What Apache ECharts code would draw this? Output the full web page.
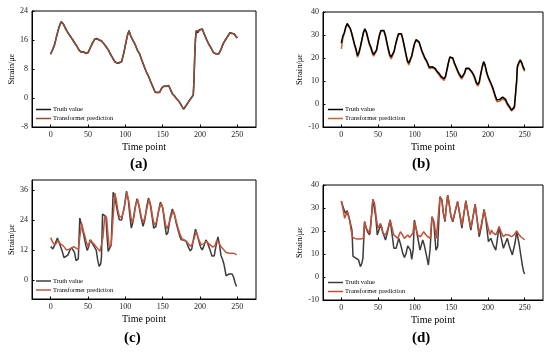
<!DOCTYPE html>
<html><head><meta charset="utf-8">
<script src="https://cdn.jsdelivr.net/npm/echarts@6/dist/echarts.min.js"></script>
<style>html,body{margin:0;padding:0;background:#fff}#c{width:550px;height:353px}</style>
</head><body><div id="c"></div>
<script>
const xTicks = [0, 50, 100, 150, 200, 250];
const yTicksA = [-8, 0, 8, 16, 24];
const yTicksB = [-10, 0, 10, 20, 30, 40];
const yTicksC = [0, 12, 24, 36];
const yTicksD = [-10, 0, 10, 20, 30, 40];
const panelLabels = ['(a)', '(b)', '(c)', '(d)'];
const seriesNames = ['Truth value', 'Transformer prediction'];

const aTruth = [[0,12.2],[3,13.5],[5,14.6],[8,17],[11,19.5],[14,21],[15,21.3],[17,20.4],[20,19.2],[23,18],[26,17.2],[29,16.2],[32,15.3],[35,14.3],[38,13.3],[41,12.6],[44,12.8],[47,12.3],[50,12.5],[53,13.8],[56,15.2],[59,16.2],[62,16.4],[65,16],[68,15.8],[71,15],[74,14.3],[77,13.3],[80,12.2],[83,11],[86,10],[89,9.6],[92,9.8],[95,10],[98,12.5],[101,15.5],[103,17.5],[105,18.6],[107,17.2],[110,16],[113,14.8],[116,13.3],[119,12.2],[122,10.5],[125,8.8],[128,7.3],[131,6],[134,4.5],[137,3],[140,1.6],[143,1.5],[146,1.6],[149,2.8],[152,3.3],[155,3.2],[158,3.5],[160,2.5],[163,1.2],[166,0.5],[169,-0.3],[172,-1],[175,-2],[178,-3.1],[180,-2.8],[183,-1.6],[186,-0.6],[189,0.2],[191,0.8],[192,5],[193,12],[194,16.5],[195,18.6],[197,18],[199,18.8],[201,19.2],[203,19],[206,17.5],[209,16],[212,14.8],[215,13.7],[218,12.6],[221,12.2],[225,12.2],[228,13.3],[231,15],[234,16],[237,17],[240,18],[243,17.8],[246,17.7],[248,17],[250,16.6]];
const aPred = [[0,12],[3,13.6],[5,14.4],[8,17.2],[11,19.3],[14,21.1],[15,21.1],[17,20.5],[20,19],[23,18.1],[26,17],[29,16.3],[32,15.1],[35,14.4],[38,13.1],[41,12.7],[44,12.6],[47,12.4],[50,12.4],[53,13.9],[56,15],[59,16.3],[62,16.2],[65,16.1],[68,15.6],[71,15.1],[74,14.1],[77,13.4],[80,12],[83,11.1],[86,9.9],[89,9.7],[92,9.6],[95,10.1],[98,12.3],[101,15.6],[103,17.3],[105,18.4],[107,17.3],[110,15.9],[113,14.9],[116,13.2],[119,12.3],[122,10.4],[125,8.9],[128,7.2],[131,6.1],[134,4.4],[137,3.1],[140,1.5],[143,1.6],[146,1.5],[149,2.9],[152,3.2],[155,3.3],[158,3.4],[160,2.6],[163,1.1],[166,0.6],[169,-0.4],[172,-0.9],[175,-2.1],[178,-3],[180,-2.9],[183,-1.5],[186,-0.7],[189,0.3],[191,0.9],[192,5.3],[193,12.2],[194,16.3],[195,18.4],[197,18.1],[199,18.6],[201,19.1],[203,19.1],[206,17.4],[209,16.1],[212,14.7],[215,13.8],[218,12.5],[221,12.3],[225,12.1],[228,13.4],[231,14.9],[234,16.1],[237,16.9],[240,17.9],[243,17.9],[246,17.6],[248,17.1],[250,16.5]];

const bTruth = [[0,26.5],[2,29.5],[4,31],[6,33.5],[8,35],[10,35.3],[12,33],[14,31],[16,28.5],[18,26],[20,24],[22,21],[24,22.5],[26,25],[28,28],[30,31],[32,32.7],[34,31.5],[36,29],[38,26.5],[40,25],[42,23],[44,21.5],[46,21],[48,23.5],[50,27],[52,30],[54,32],[56,32.8],[58,32],[60,30],[62,27],[64,24],[66,21.5],[68,20.5],[70,21],[72,23],[74,26],[76,28.5],[78,30.5],[80,31.3],[82,30.5],[84,28],[86,25],[88,22],[90,19],[92,17.8],[94,18.5],[96,21],[98,24],[100,26.5],[102,28],[104,28.8],[106,27],[108,25],[110,23],[112,21.5],[114,20],[116,19],[118,17.5],[120,16],[122,15.5],[124,16.2],[126,16],[128,15.5],[130,14.5],[132,13.8],[134,13],[136,12],[138,11.2],[140,11],[142,12],[144,15],[146,18],[148,20.5],[150,21.3],[152,20],[154,18],[156,16.5],[158,15],[160,13.5],[162,12.5],[164,11.5],[166,11.5],[168,13.5],[170,15.5],[172,16.2],[174,15.5],[176,15],[178,14],[180,13],[182,11.5],[184,9.5],[186,8.5],[188,9.5],[190,13],[192,16],[194,18.4],[196,17],[198,14],[200,12],[202,10.5],[204,9],[206,7.5],[208,5.5],[210,3.5],[212,1.8],[214,1.5],[216,2],[218,2.7],[220,3],[222,3.5],[224,2],[226,0.5],[228,-0.5],[230,-1.5],[232,-2.7],[234,-2.5],[236,-1.2],[238,-0.5],[239,10],[240,16.3],[242,18],[244,19.2],[246,18],[248,16],[250,14.8]];
const bPred = [[0,24],[2,28.5],[4,30.5],[6,33],[8,34.6],[10,35],[12,32.8],[14,30.6],[16,28],[18,25.5],[20,23.2],[22,20.3],[24,21.8],[26,24.5],[28,27.6],[30,30.6],[32,32.4],[34,31.2],[36,28.6],[38,26],[40,24.3],[42,22.2],[44,20.8],[46,20.3],[48,23],[50,26.6],[52,29.6],[54,31.7],[56,32.5],[58,31.7],[60,29.6],[62,26.5],[64,23.4],[66,20.8],[68,19.6],[70,20.3],[72,22.6],[74,25.6],[76,28.2],[78,30.2],[80,31],[82,30.2],[84,27.6],[86,24.5],[88,21.4],[90,18.3],[92,17],[94,17.8],[96,20.5],[98,23.6],[100,26.2],[102,27.7],[104,28.5],[106,26.7],[108,24.6],[110,22.6],[112,21],[114,19.5],[116,18.5],[118,17],[120,15.4],[122,15],[124,15.8],[126,15.6],[128,15],[130,14],[132,13.2],[134,12.3],[136,11.3],[138,10.5],[140,10.3],[142,11.5],[144,14.5],[146,17.6],[148,20.2],[150,21],[152,19.7],[154,17.6],[156,16],[158,14.5],[160,13],[162,11.8],[164,10.8],[166,10.9],[168,13],[170,15.2],[172,16],[174,15.2],[176,14.6],[178,13.6],[180,12.5],[182,10.8],[184,8.8],[186,7.8],[188,8.9],[190,12.5],[192,15.6],[194,18],[196,16.6],[198,13.6],[200,11.5],[202,10],[204,8.5],[206,7],[208,5],[210,2.8],[212,1],[214,0.6],[216,1.2],[218,1.8],[220,2.2],[222,2.8],[224,1.3],[226,-0.2],[228,-1.1],[230,-2],[232,-3],[234,-2.9],[236,-1.8],[238,-1],[239,9],[240,15.5],[242,17.4],[244,18.7],[246,17.5],[248,15.5],[250,14.2]];

const cTruth = [[0,13.5],[3,12.5],[6,14.5],[9,16.8],[12,14.5],[15,12],[18,9],[20,8.3],[23,10],[26,12.1],[28,13],[30,13.4],[32,11],[34,7.8],[36,7.5],[37,8.5],[39,24.8],[41,22.5],[44,18.5],[47,14],[49,11.9],[51,13.5],[53,16.1],[55,15.5],[57,14.1],[59,13.5],[61,12],[63,8],[65,5.5],[67,6.5],[68,9],[69.5,26.4],[72,26],[74,25.5],[75,20],[77,11.5],[79,12],[81,14],[83.7,35.1],[86,33],[88,29.7],[90,26.5],[92,24.1],[95,24],[97,24.5],[99,30],[101.5,35.5],[104,32],[106,26],[108,20.8],[110,23],[113,29],[115.7,32.5],[118,30],[121,25],[123.7,21.5],[126,24],[129,30],[131,32.8],[133,31],[136,25],[138,20.8],[141,21.5],[144,27],[147,31.2],[150,29],[153,22],[155,18.1],[157,19],[160,25],[163,28.4],[166,26],[168,23],[170.5,20.1],[173,17.5],[175,16.1],[178,16],[181.6,15.5],[184,13.5],[187,11.7],[189,12.5],[191,16],[194,20.4],[196,18.5],[199,15],[201,13],[203,12.1],[205,13.5],[208,16.1],[210,15],[213,12.5],[216,9.7],[219,9.7],[221,13],[224,17.3],[226,14.5],[228,10],[230,8.5],[232,6.5],[235,1.7],[237,1.2],[239,2.5],[241,3.2],[243,2.5],[245,1.2],[247,-1],[249,-2.5]];
const cPred = [[0,17],[3,15],[6,14.1],[8,15],[10,15.9],[13,14.5],[17,13.7],[21,12.1],[24,12.3],[28,12.8],[31,13.4],[34,12.8],[37,12.3],[39,12.1],[41.4,22.8],[44,19.5],[46,17.5],[48,15],[50,13.5],[52,15],[53.5,16.1],[56,15],[59,14.1],[62,13],[66,11.5],[68,12.1],[70,17],[72.5,25.7],[75,24.8],[76.5,19],[78.3,13.5],[81,13.8],[83,14.5],[86,34.8],[88,32],[90,28],[92,25.5],[95,25],[98,28],[102,35],[105,31],[107,26],[109,23],[111,24.5],[114,30],[116.5,32.3],[119,29],[122,24.5],[124,23],[127,26],[131.5,32.3],[134,30],[137,24.5],[139,22],[142,23.5],[145,28],[148,30.8],[151,27.5],[154,22],[156,20.5],[158,21],[161,25],[164,27.8],[167,25],[170,21.5],[173,18.5],[176,16.5],[179,16.1],[182,15.5],[185,14.3],[188,13.5],[191,15.5],[195,19.5],[198,16.5],[201.6,14.1],[205,14.5],[208,15.5],[211,14.8],[214,14],[217,13.2],[220,13.8],[222.5,16.1],[225,15],[228,13.5],[231,12.5],[235,11.1],[239,10.8],[244,10.8],[247,10.5],[249,10.1]];

const dTruth = [[0,33],[2.3,30.6],[5.4,27.7],[8,28.8],[11.3,24.8],[14.5,20.4],[15.9,9],[18,8.5],[20.4,8.1],[23.5,7.4],[26,4.5],[28,6],[29.4,8.1],[31.7,24.1],[34,21.2],[36,19.5],[38.5,18.3],[41,26],[43,33.8],[45.3,33.2],[47,26],[49,18.3],[52,21.2],[54.3,22.6],[57,19],[60.2,16.1],[63,19.5],[66.6,24.8],[69,19],[71.6,12.5],[74.7,12.5],[78.4,16.8],[81,14],[83.8,10.3],[86,8.5],[88,10],[90.6,13.5],[92.5,13],[94.2,11.7],[96,7.7],[98,12],[99.6,24.8],[102,21],[104,17.5],[107.3,11.7],[111,16.1],[113,14],[115.5,10.3],[118.7,5.2],[121,12],[123.6,26.2],[126,24.1],[129,11.7],[131.3,13.2],[133,25],[134.5,34.9],[137.2,33.5],[139,28],[141.3,24.1],[143,30],[145,35.6],[147,32],[149.5,26.2],[152,24],[155,28],[158.5,32.8],[161,28],[164.4,21.2],[167,27],[169.8,33.2],[173,27],[176.6,20.4],[179,25],[182.5,31.7],[185,25],[188,17.5],[191,22],[194.7,29.4],[197,25],[200.6,15.4],[203.8,16.8],[207,14],[210.6,11.7],[213,17],[215,21.9],[218,17],[221,12.5],[224,15],[226.4,16.8],[229,13.5],[233.2,9.6],[235.5,10.3],[237,15],[239.1,19.7],[242.3,14.6],[244.5,10],[246.8,5.2],[248.5,2.5],[250,1.3]];
const dPred = [[0,33],[2,30],[4.5,25.5],[8,28.4],[11.3,24.8],[13,21],[15,17.5],[18,16.8],[22,16.5],[26,16.5],[30,16.8],[31.7,24.1],[34,21.2],[36.5,20],[39.4,19],[41,26],[43,33.8],[45.3,32],[47.5,26],[49.8,21.2],[53.4,23.3],[56.6,19],[60.2,18.3],[63,20.5],[66.6,24.8],[69,21.5],[71.6,18.3],[74,17.5],[77,16.8],[80.6,19.7],[83,18.5],[86,16.8],[88,17.5],[90.6,18.3],[93,17.2],[95,16.8],[97.5,19],[99.6,24.1],[102,21],[104,18.3],[107.8,17.5],[110,18.5],[112.3,19.7],[115,18.5],[117.8,17.5],[121.4,16.8],[123.6,26.2],[126.8,23.3],[129.5,16.8],[132.2,17.5],[134.5,34.9],[137.2,33],[139,28],[141.3,24.8],[143,30],[145,35.6],[147,32],[149.5,26.5],[152,24.5],[155,28.5],[158.5,32.8],[161,28.5],[164.4,22.5],[167,27.5],[169.8,33],[173,27.5],[176.6,21.5],[179,25.5],[182.5,31.5],[185,25.5],[188,19],[191,23],[194.7,29.2],[197.5,25],[201.5,19.7],[203,18.5],[204.7,20.4],[207,19.2],[210.6,18.3],[213,20],[215,21.9],[218,19.5],[221,17.5],[224,18.5],[226.4,19],[229,18.2],[232,17.5],[235.5,18.3],[239,20],[241.5,18.8],[244.6,17.5],[247,17],[250,16.2]];

const FONT = 'Liberation Serif';
const panels = [
  {grid:{left:32,top:11,width:224,height:116}, y:{min:-8,max:24,ticks:yTicksA}, truth:aTruth, pred:aPred, tc:'#1a1a1a', pc:'#8d4f3a', predTop:true, legTop:106, legLeft:36, label:{x:140,y:166}},
  {grid:{left:323,top:12,width:220,height:115}, y:{min:-10,max:40,ticks:yTicksB}, truth:bTruth, pred:bPred, tc:'#000000', pc:'#c8642c', predTop:false, legTop:106, legLeft:328, label:{x:422,y:166}},
  {grid:{left:32,top:180,width:224,height:119}, y:{min:-7.5,max:40,ticks:yTicksC}, truth:cTruth, pred:cPred, tc:'#3c3c3c', pc:'#c0563e', predTop:true, legTop:277.5, legLeft:36, label:{x:134,y:340}},
  {grid:{left:323,top:185,width:220,height:115}, y:{min:-10,max:40,ticks:yTicksD}, truth:dTruth, pred:dPred, tc:'#3c3c3c', pc:'#c0503a', predTop:true, legTop:279, legLeft:328, label:{x:422,y:340}}
];

const option = {animation:false, backgroundColor:'#fff', grid:[], xAxis:[], yAxis:[], series:[], legend:[], graphic:[]};
panels.forEach((p,i)=>{
  option.grid.push(Object.assign({show:true, borderColor:'#000', borderWidth:1, containLabel:false}, p.grid));
  option.xAxis.push({type:'value', gridIndex:i, min:-25, max:275, name:'Time point', nameLocation:'middle', nameGap:15,
    nameTextStyle:{fontFamily:FONT, fontSize:10, color:'#000'},
    axisLine:{show:true, onZero:false, lineStyle:{color:'#000', width:1}},
    axisTick:{show:true, inside:true, length:2.5, customValues:xTicks, lineStyle:{color:'#000'}},
    axisLabel:{customValues:xTicks, fontFamily:FONT, fontSize:8, color:'#222', margin:4},
    splitLine:{show:false}});
  option.yAxis.push({type:'value', gridIndex:i, min:p.y.min, max:p.y.max, name:'Strain/με', nameLocation:'middle', nameGap:15,
    nameTextStyle:{fontFamily:FONT, fontSize:8.5, color:'#000'},
    axisLine:{show:true, onZero:false, lineStyle:{color:'#000', width:1}},
    axisTick:{show:true, inside:true, length:2.5, customValues:p.y.ticks, lineStyle:{color:'#000'}},
    axisLabel:{customValues:p.y.ticks, fontFamily:FONT, fontSize:8, color:'#222', margin:4},
    splitLine:{show:false}});
  const tS = {name:seriesNames[0], type:'line', xAxisIndex:i, yAxisIndex:i, data:p.truth, symbol:'none', lineStyle:{color:p.tc, width:1.5}, itemStyle:{color:p.tc}, z: p.predTop?2:4};
  const pS = {name:seriesNames[1], type:'line', xAxisIndex:i, yAxisIndex:i, data:p.pred, symbol:'none', lineStyle:{color:p.pc, width:1.5}, itemStyle:{color:p.pc}, z: p.predTop?4:2};
  option.series.push(tS, pS);
  option.legend.push({left:p.legLeft, top:p.legTop, orient:'vertical', itemWidth:15, itemHeight:6, itemGap:2, selectedMode:false,
    textStyle:{fontFamily:FONT, fontSize:6.5, color:'#000', padding:[0,0,0,-3]}, padding:0,
    data:[{name:seriesNames[0], icon:'path://M0,0L10,0L10,1L0,1Z', itemStyle:{color:p.tc}},
          {name:seriesNames[1], icon:'path://M0,0L10,0L10,1L0,1Z', itemStyle:{color:p.pc}}]});
  option.graphic.push({type:'text', left:p.label.x - 10, top:p.label.y - 9, style:{text:panelLabels[i], fontFamily:FONT, fontSize:15, fontWeight:'bold', fill:'#000'}});
});
const chart = echarts.init(document.getElementById('c'), null, {renderer:'canvas'});
chart.setOption(option);
</script></body></html>
